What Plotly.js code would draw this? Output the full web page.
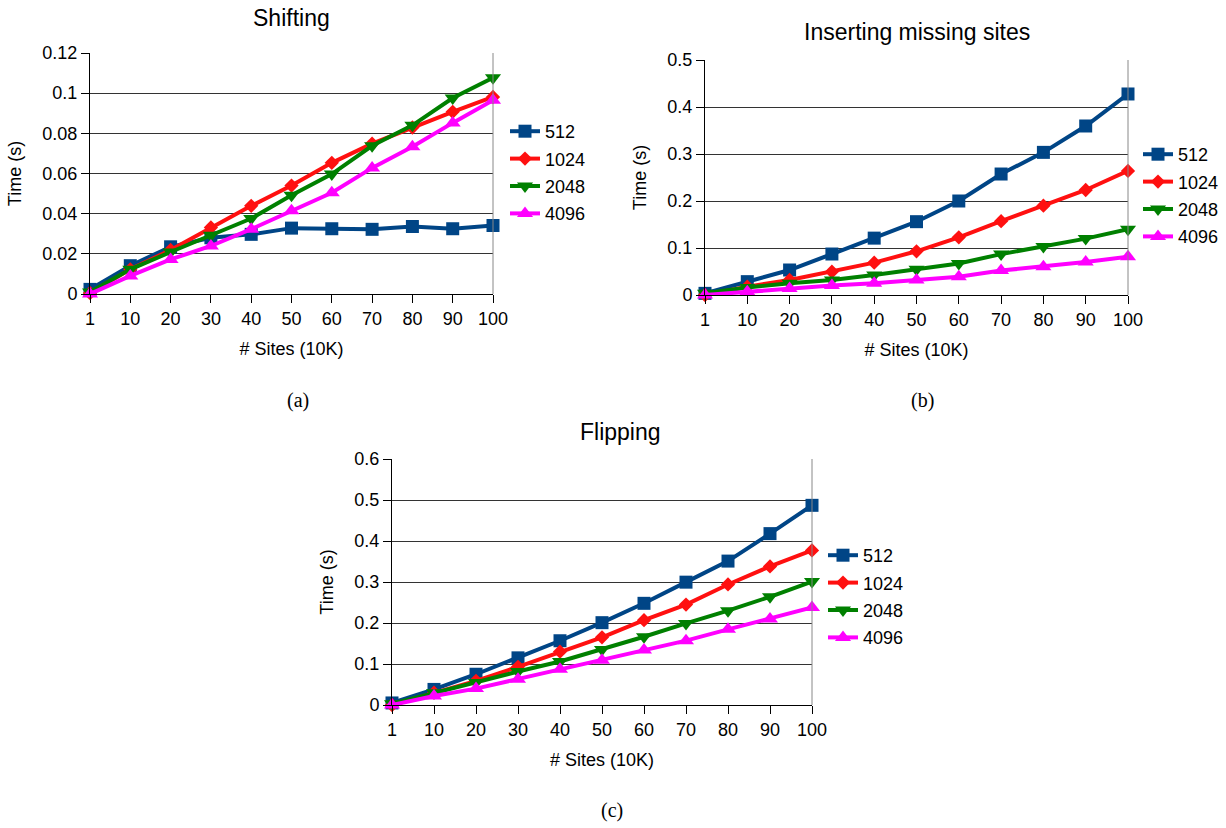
<!DOCTYPE html>
<html>
<head>
<meta charset="utf-8">
<script src="https://cdn.plot.ly/plotly-3.0.1.min.js"></script>
<style>html,body{margin:0;padding:0;background:#fff;}#chart{width:1226px;height:828px;}</style>
</head>
<body>
<div id="chart"></div>
<script>
const sites = ["1","10","20","30","40","50","60","70","80","90","100"];
const seriesNames = ["512","1024","2048","4096"];

const shift512  = [0.0023,0.0141,0.0235,0.028,0.0297,0.0328,0.0325,0.0322,0.0336,0.0325,0.0341];
const shift1024 = [0.0005,0.0123,0.0219,0.0331,0.0439,0.054,0.0653,0.0749,0.0829,0.0907,0.0981];
const shift2048 = [0.001,0.0123,0.0209,0.0292,0.0376,0.0492,0.0597,0.0738,0.084,0.0976,0.1077];
const shift4096 = [0.0,0.009,0.0172,0.0239,0.0323,0.0414,0.0504,0.0628,0.0733,0.0852,0.0965];

const ins512  = [0.0035,0.0284,0.0532,0.0872,0.121,0.156,0.2,0.2574,0.3035,0.3596,0.4277];
const ins1024 = [0.0,0.0177,0.032,0.0496,0.0688,0.093,0.1227,0.157,0.19,0.2234,0.264];
const ins2048 = [0.0035,0.016,0.025,0.032,0.0426,0.0546,0.067,0.087,0.103,0.12,0.14];
const ins4096 = [0.0,0.007,0.014,0.02,0.025,0.032,0.039,0.052,0.0603,0.07,0.0816];

const flip512  = [0.005,0.038,0.075,0.115,0.1567,0.2008,0.248,0.2996,0.351,0.418,0.487];
const flip1024 = [0.0,0.03,0.059,0.093,0.13,0.165,0.207,0.245,0.294,0.338,0.377];
const flip2048 = [0.003,0.03,0.0547,0.0816,0.106,0.1355,0.1665,0.199,0.23,0.264,0.301];
const flip4096 = [0.0,0.022,0.04,0.063,0.0873,0.109,0.134,0.157,0.1845,0.21,0.238];

const colors = ["#004586","#ff1010","#008000","#ff00ff"];
const symbols = ["square","diamond","triangle-down","triangle-up"];
const msizes = [13,11,14,14];

function mk(vals, i, ax, lg){
  return {
    x: sites, y: vals, type:"scatter", mode:"lines+markers",
    name: seriesNames[i], xaxis:"x"+ax, yaxis:"y"+ax, legend: lg,
    legendgroup: lg+"g"+i,
    cliponaxis:false,
    line:{color:colors[i], width:4},
    marker:{color:colors[i], symbol:symbols[i], size:msizes[i]}
  };
}
const data = [];
[shift512,shift1024,shift2048,shift4096].forEach((v,i)=>data.push(mk(v,i,"","legend")));
[ins512,ins1024,ins2048,ins4096].forEach((v,i)=>data.push(mk(v,i,"2","legend2")));
[flip512,flip1024,flip2048,flip4096].forEach((v,i)=>data.push(mk(v,i,"3","legend3")));

const W=1226,H=828;
function dom(a,b,t){return [a/t,b/t];}
function ydom(top,bot){return [1-bot/H,1-top/H];}
const FAM="Liberation Sans, Arial, sans-serif";
const tickFont={family:FAM,size:18,color:"#000"};
function xax(d,anchor){
  return {domain:d, anchor:anchor, type:"category", range:[0,10],
    showgrid:false, showline:true, linecolor:"#000", linewidth:1,
    ticks:"outside", ticklen:8, tickcolor:"#000", tickfont:tickFont,
    title:{text:"# Sites (10K)", font:{family:FAM,size:18,color:"#000"}, standoff:14},
    zeroline:false, fixedrange:true};
}
function yax(d,anchor,rng,dt){
  return {domain:d, anchor:anchor, range:rng, dtick:dt, tick0:0,
    showgrid:true, gridcolor:"#333", gridwidth:1,
    showline:true, linecolor:"#000", linewidth:1,
    ticks:"outside", ticklen:8, tickcolor:"#000", tickfont:tickFont,
    title:{text:"Time (s)", font:{family:FAM,size:18,color:"#000"}, standoff:16},
    zeroline:false, fixedrange:true};
}
function lgd(x,y){
  return {x:x/W, y:1-y/H, xanchor:"left", yanchor:"top", bgcolor:"rgba(0,0,0,0)",
    font:{family:FAM,size:18,color:"#000"},
    itemwidth:30, tracegroupgap:1, itemsizing:"trace", borderwidth:0};
}
const titleFont={family:FAM,size:23,color:"#000"};
const capFont={family:"Liberation Serif, DejaVu Serif, serif",size:20,color:"#000"};
function rightBorder(xr,yr){
  return {type:"line", xref:xr+" domain", yref:yr+" domain", x0:1,x1:1,y0:0,y1:1, line:{color:"#888",width:1}};
}
const layout = {
  width:W, height:H, margin:{l:0,r:0,t:0,b:0},
  paper_bgcolor:"#fff", plot_bgcolor:"#fff", showlegend:true,
  xaxis: xax(dom(90,493,W),"y"),
  yaxis: yax(ydom(53,294),"x",[0,0.12],0.02),
  xaxis2: xax(dom(705,1128,W),"y2"),
  yaxis2: yax(ydom(60,295),"x2",[0,0.5],0.1),
  xaxis3: xax(dom(392,812,W),"y3"),
  yaxis3: yax(ydom(459,705),"x3",[0,0.6],0.1),
  legend: lgd(505,113),
  legend2: lgd(1138,136),
  legend3: lgd(823,537),
  shapes:[rightBorder("x","y"),rightBorder("x2","y2"),rightBorder("x3","y3")],
  annotations:[
    {text:"Shifting", x:291/W, y:1-18/H, xref:"paper", yref:"paper", showarrow:false, font:titleFont, xanchor:"center", yanchor:"middle"},
    {text:"Inserting missing sites", x:917/W, y:1-32/H, xref:"paper", yref:"paper", showarrow:false, font:titleFont, xanchor:"center", yanchor:"middle"},
    {text:"Flipping", x:620/W, y:1-432/H, xref:"paper", yref:"paper", showarrow:false, font:titleFont, xanchor:"center", yanchor:"middle"},
    {text:"(a)", x:298/W, y:1-401/H, xref:"paper", yref:"paper", showarrow:false, font:capFont, xanchor:"center", yanchor:"middle"},
    {text:"(b)", x:922/W, y:1-401/H, xref:"paper", yref:"paper", showarrow:false, font:capFont, xanchor:"center", yanchor:"middle"},
    {text:"(c)", x:612/W, y:1-810/H, xref:"paper", yref:"paper", showarrow:false, font:capFont, xanchor:"center", yanchor:"middle"}
  ]
};
Plotly.newPlot("chart", data, layout, {displayModeBar:false, staticPlot:true});
</script>
</body>
</html>
